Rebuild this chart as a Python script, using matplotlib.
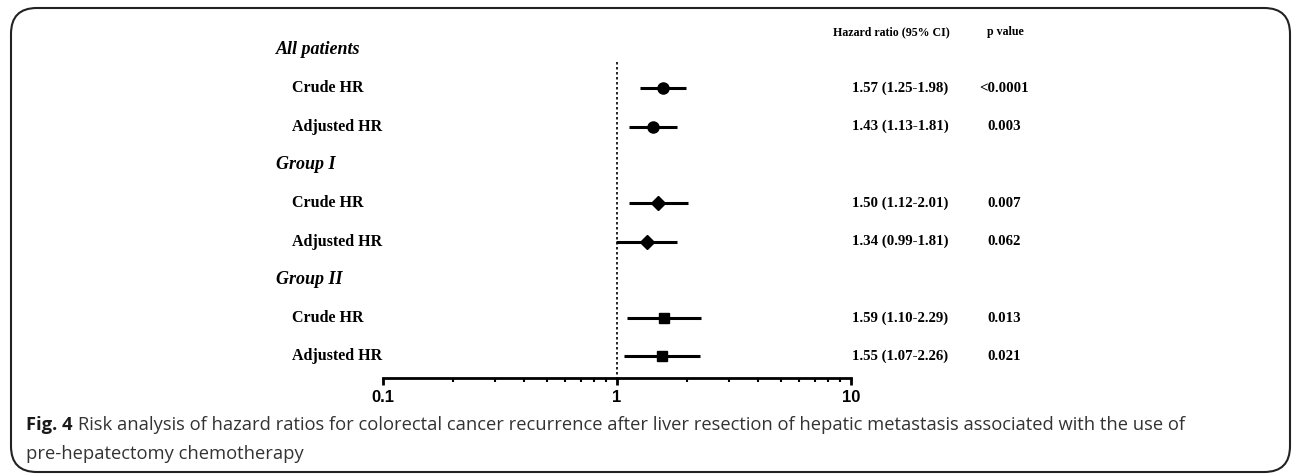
import matplotlib
matplotlib.use("Agg")
import matplotlib.pyplot as plt
import matplotlib.transforms as mtransforms
from matplotlib.patches import FancyBboxPatch

# rows of the forest plot
groups = ['All patients', 'Group I', 'Group II']
row_labels = ['Crude HR', 'Adjusted HR']
hr = [1.57, 1.43, 1.50, 1.34, 1.59, 1.55]
ci_low = [1.25, 1.13, 1.12, 0.99, 1.10, 1.07]
ci_high = [1.98, 1.81, 2.01, 1.81, 2.29, 2.26]
p_values = ['<0.0001', '0.003', '0.007', '0.062', '0.013', '0.021']
group_markers = ['o', 'D', 's']
xticks = [0.1, 1, 10]
xticklabels = ['0.1', '1', '10']

W, H = 1292, 474
fig = plt.figure(figsize=(W / 100, H / 100), dpi=100)

row0_px, row_step = 50, 38.3
bottom_px, top_px = 378, 20
ymax = (bottom_px - row0_px) / row_step
ymin = (top_px - row0_px) / row_step

ax = fig.add_axes([383 / W, 1 - bottom_px / H, (851 - 383) / W, (bottom_px - top_px) / H])
ax.set_xscale('log')
ax.set_xlim(0.1, 10)
ax.set_ylim(ymax, ymin)
for s in ['top', 'right', 'left']:
    ax.spines[s].set_visible(False)
ax.spines['bottom'].set_linewidth(2)
ax.set_yticks([])
ax.set_xticks(xticks)
ax.set_xticklabels(xticklabels, fontsize=12, fontweight='bold', family='Liberation Sans')
ax.tick_params(axis='x', which='major', length=5, width=2, pad=4)
ax.tick_params(axis='x', which='minor', length=3, width=1.5)

# reference line at HR = 1
ax.plot([1, 1], [(62 - row0_px) / row_step, ymax], ls=(0, (1.5, 1.5)), color='black', lw=1.2)

lab_tr = mtransforms.blended_transform_factory(fig.transFigure, ax.transData)
serif = 'Liberation Serif'

k = 0
y = 0
for g, grp in enumerate(groups):
    ax.text(276 / W, y, grp, transform=lab_tr, ha='left', va='center',
            fontsize=13, fontweight='bold', fontstyle='italic', family=serif)
    y += 1
    for r in row_labels:
        ax.text(292 / W, y, r, transform=lab_tr, ha='left', va='center',
                fontsize=11.5, fontweight='bold', family=serif)
        ax.plot([ci_low[k], ci_high[k]], [y, y], color='black', lw=2.2, solid_capstyle='butt')
        ms = {'o': 8, 'D': 7, 's': 6.5}[group_markers[g]]
        ax.plot(hr[k], y, marker=group_markers[g], color='black', ms=ms)
        ax.text(900 / W, y, '%.2f (%.2f-%.2f)' % (hr[k], ci_low[k], ci_high[k]),
                transform=lab_tr, ha='center', va='center', fontsize=10.7,
                fontweight='bold', family=serif)
        ax.text(1004 / W, y, p_values[k], transform=lab_tr, ha='center', va='center',
                fontsize=10.7, fontweight='bold', family=serif)
        k += 1
        y += 1

fig.text(891 / W, 1 - 32 / H, 'Hazard ratio (95% CI)', ha='center', va='center',
         fontsize=8.6, fontweight='bold', family=serif)
fig.text(1005 / W, 1 - 32 / H, 'p value', ha='center', va='center',
         fontsize=8.6, fontweight='bold', family=serif)

# caption
cap1 = fig.text(26 / W, 1 - 425 / H, 'Fig. 4', ha='left', va='center', fontsize=13.2,
                fontweight='bold', family='Open Sans', color='#1a1a1a')
fig.canvas.draw()
bb = cap1.get_window_extent(fig.canvas.get_renderer())
fig.text((bb.x1 + 5) / W, 1 - 425 / H,
         'Risk analysis of hazard ratios for colorectal cancer recurrence after liver resection of hepatic metastasis associated with the use of',
         ha='left', va='center', fontsize=13.2, family='Open Sans', color='#333333')
fig.text(26 / W, 1 - 454 / H, 'pre-hepatectomy chemotherapy', ha='left', va='center',
         fontsize=13.2, family='Open Sans', color='#333333')

# rounded frame
frame = FancyBboxPatch((11 / W, 2 / H), (1279 / W), (464 / H), transform=fig.transFigure,
                       boxstyle='round,pad=0,rounding_size=0.02', fill=False,
                       ec='#222222', lw=1.5, mutation_aspect=W / H)
fig.patches.append(frame)

fig.savefig('out.png', dpi=100)
